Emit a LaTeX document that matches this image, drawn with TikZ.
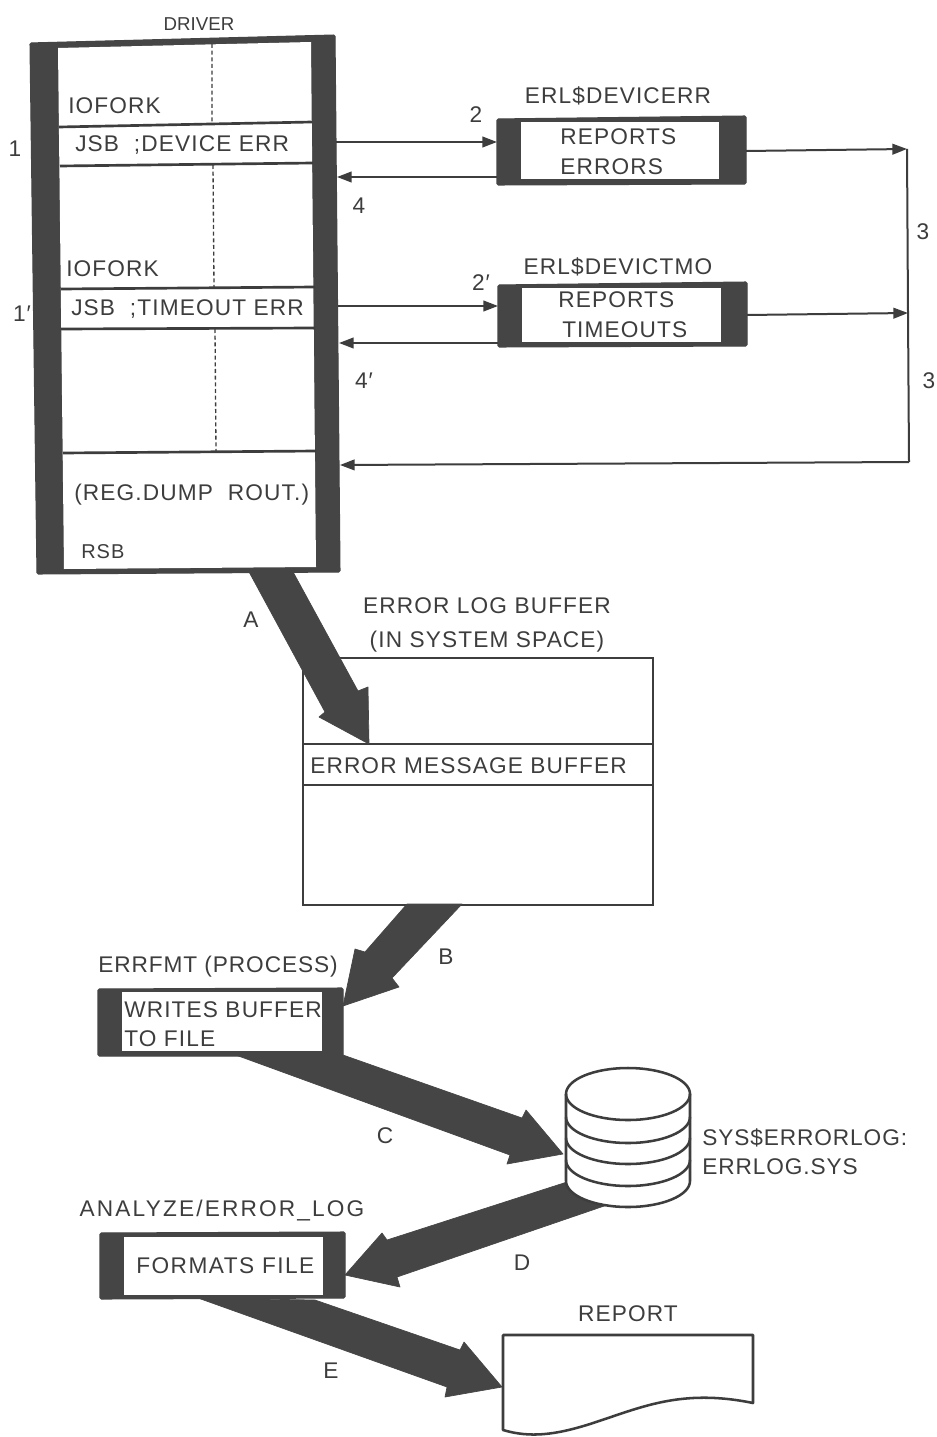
\documentclass[tikz,border=0pt]{standalone}
\usepackage{fontspec}
\setmainfont{Liberation Sans}
\usetikzlibrary{arrows.meta,calc}
\definecolor{ink}{gray}{0.24}
\definecolor{solid}{gray}{0.27}
\newcommand{\LS}[1]{\addfontfeatures{LetterSpace=#1}}
\tikzset{
 x=0.75pt,y=-0.75pt,
 lbl/.style={font=\fontsize{17}{21}\selectfont\LS{5},text=ink,inner sep=0pt,align=left},
 frame/.style={draw=ink,line width=1.5pt,fill=white,inner sep=0pt},
 dark/.style={fill=solid,draw=solid,line width=.8pt,rounded corners=1pt},
 hole/.style={fill=white},
 arw/.style={draw=ink,line width=1.5pt,-{Triangle[length=11pt,width=8pt]}},
 wire/.style={draw=ink,line width=1.5pt},
 rule/.style={draw=ink,line width=2pt},
 fat/.style={fill=solid,draw=solid,line width=.5pt,line join=round},
 disk/.style={draw=ink,line width=1.9pt,line cap=round},
}
\begin{document}
\begin{tikzpicture}
\useasboundingbox (0,0) rectangle (937,1437);
\fill[white] (0,0) rectangle (937,1437);
% ---------- driver
\fill[dark] (30,43) -- (335,35) -- (340,572) -- (37,574) -- cycle;
\fill[hole] (58,48) -- (311,42) -- (316,567) -- (64,569) -- cycle;
\coordinate (driver) at (185,305);
\draw[rule] (59,127) -- (312,122);
\draw[rule] (60,166) -- (313,163);
\draw[rule] (61,289) -- (315,287);
\draw[rule] (61,329) -- (315,328);
\draw[rule] (63,453) -- (316,451);
\draw[ink,densely dashed,line width=1pt] (212,44) -- (212,122) (213,165) -- (214,287) (215,329) -- (216,451);
\node[lbl,font=\fontsize{14}{18}\selectfont] (tdriver) at (199,24) {DRIVER};
\node[lbl,anchor=west] (t1) at (68,106) {IOFORK};
\node[lbl,anchor=west] (t2) at (75,145) {JSB\ \ ;DEVICE ERR};
\node[lbl,anchor=west] (t3) at (66,269) {IOFORK};
\node[lbl,anchor=west] (t4) at (71,309) {JSB\ \ ;TIMEOUT ERR};
\node[lbl,anchor=west] (t5) at (74,495) {(REG.DUMP\ \ ROUT.)};
\node[lbl,anchor=west,font=\fontsize{15}{18}\selectfont\LS{5}] (t6) at (81,552) {RSB};
\node[lbl] (n1) at (15,149) {1};
\node[lbl] (n1p) at (22,314) {1′};
% ---------- ERL$DEVICERR
\fill[dark] (497,119) -- (746,116) -- (746,184) -- (497,185) -- cycle;
\fill[hole] (521,122) rectangle (719,179);
\node[lbl,anchor=west,font=\fontsize{17}{22.5}\selectfont\LS{5}] (erl1t) at (560,152) {REPORTS\\ERRORS};
\node[lbl] (erl1h) at (618,96) {ERL\$DEVICERR};
% ---------- ERL$DEVICTMO
\fill[dark] (498,285) -- (747,282) -- (747,346) -- (498,347) -- cycle;
\fill[hole] (522,288) rectangle (721,342);
\node[lbl,anchor=west,font=\fontsize{17}{22.5}\selectfont\LS{5}] (erl2t) at (558,315) {REPORTS\\\hspace*{3pt}TIMEOUTS};
\node[lbl] (erl2h) at (618,267) {ERL\$DEVICTMO};
% ---------- thin connectors
\coordinate (d1o) at (336,142);
\coordinate (d1i) at (337,177);
\coordinate (d2o) at (338,306);
\coordinate (d2i) at (339,343);
\coordinate (d3i) at (340,465);
\coordinate (e1o) at (497,142);
\coordinate (e1i) at (497,177);
\coordinate (e2o) at (498,306);
\coordinate (e2i) at (498,343);
\coordinate (e1r) at (746,151);
\coordinate (e2r) at (747,315);
\coordinate (r1) at (907,149);
\coordinate (r2) at (908,313);
\coordinate (r3) at (909,462);
\draw[arw] (d1o) -- (e1o);
\draw[arw] (e1i) -- (d1i);
\draw[arw] (d2o) -- (e2o);
\draw[arw] (e2i) -- (d2i);
\draw[arw] (e1r) -- (r1);
\draw[arw] (e2r) -- (r2);
\draw[wire] (r1) -- (r2) -- (r3);
\draw[arw] (r3) -- (d3i);
\node[lbl] (n2) at (476,115) {2};
\node[lbl] (n2p) at (481,283) {2′};
\node[lbl] (n4) at (359,206) {4};
\node[lbl] (n4p) at (364,381) {4′};
\node[lbl] (n3a) at (923,232) {3};
\node[lbl] (n3b) at (929,381) {3};
% ---------- error log buffer
\node[frame,minimum width=262.5pt,minimum height=185pt,anchor=north west] (buf) at (302,657) {};
\draw[rule] (buf.west |- 0,744) -- (buf.east |- 0,744);
\draw[rule] (buf.west |- 0,785) -- (buf.east |- 0,785);
\node[lbl,align=center,font=\fontsize{17}{25.5}\selectfont\LS{5}] (buft) at (487,625) {ERROR LOG BUFFER\\(IN SYSTEM SPACE)};
\node[lbl,anchor=west] (bufm) at (310,766) {ERROR MESSAGE BUFFER};
% ---------- fat arrows A, B, C, E (D is under the disk)
\coordinate (Atip) at (369,744);
\coordinate (Btip) at (343,1006);
\coordinate (Ctip) at (563,1154);
\coordinate (Dtip) at (345,1275);
\coordinate (Etip) at (502,1387);
\fill[fat] (248,570) -- (325,712) -- (319,717) -- (Atip) -- (368,687) -- (358,691) -- (292,570) -- cycle;
\fill[fat] (462,904) -- (392,978) -- (399,987) -- (Btip) -- (355,949) -- (365,952) -- (407,904) -- cycle;
\fill[fat] (233,1054) -- (510,1155) -- (507,1164) -- (Ctip) -- (526,1110) -- (522,1118) -- (343,1055) -- cycle;
\fill[fat] (598,1172) -- (387,1240) -- (382,1233) -- (Dtip) -- (400,1287) -- (397,1277) -- (610,1204) -- cycle;
\fill[fat] (198,1298) -- (447,1387) -- (445,1397) -- (Etip) -- (464,1342) -- (460,1350) -- (315,1300) -- cycle;
% ---------- errfmt
\fill[dark] (98,989) -- (343,988) -- (343,1056) -- (98,1056) -- cycle;
\fill[hole] (122,992) rectangle (322,1051);
\node[lbl,anchor=west,font=\fontsize{17}{21.75}\selectfont\LS{5}] (efmtt) at (124,1024) {WRITES BUFFER\\TO FILE};
\node[lbl,font=\fontsize{17}{21}\selectfont\LS{4}] (efmth) at (218,967) {ERRFMT (PROCESS)};
% ---------- disk
\path[fill=white] (566,1094) -- (566,1181) arc[start angle=180,end angle=0,x radius=62,y radius=26] -- (690,1094) -- cycle;
\draw[disk] (566,1094) -- (566,1181) arc[start angle=180,end angle=0,x radius=62,y radius=26] -- (690,1094);
\draw[disk] (628,1094) ellipse[x radius=62,y radius=26];
\draw[disk] (566,1117) arc[start angle=180,end angle=0,x radius=62,y radius=26];
\draw[disk] (566,1138) arc[start angle=180,end angle=0,x radius=62,y radius=26];
\draw[disk] (566,1160) arc[start angle=180,end angle=0,x radius=62,y radius=26];
\node[lbl,anchor=west,font=\fontsize{17}{21.5}\selectfont\LS{4}] (dskt) at (702,1152) {SYS\$ERRORLOG:\\ERRLOG.SYS};
% ---------- analyze
\fill[dark] (100,1233) -- (345,1232) -- (345,1298) -- (100,1299) -- cycle;
\fill[hole] (124,1237) rectangle (323,1295);
\node[lbl,anchor=west,font=\fontsize{17}{21}\selectfont\LS{6.5}] (ant) at (136,1266) {FORMATS FILE};
\node[lbl,font=\fontsize{17}{21}\selectfont\LS{9.5}] (anh) at (222,1211) {ANALYZE/ERROR\_LOG};
% ---------- report
\node[lbl] (rpth) at (628,1314) {REPORT};
\draw[draw=ink,line width=1.9pt,fill=white,line join=round] (503,1335) -- (753,1335) -- (753,1403) .. controls (680,1388) and (640,1408) .. (590,1424) .. controls (555,1435) and (530,1438) .. (503,1430) -- cycle;
% ---------- letters
\node[lbl] (A) at (251,620) {A};
\node[lbl] (B) at (446,957) {B};
\node[lbl] (C) at (385,1136) {C};
\node[lbl] (D) at (522,1263) {D};
\node[lbl] (E) at (331,1371) {E};
\end{tikzpicture}
\end{document}
